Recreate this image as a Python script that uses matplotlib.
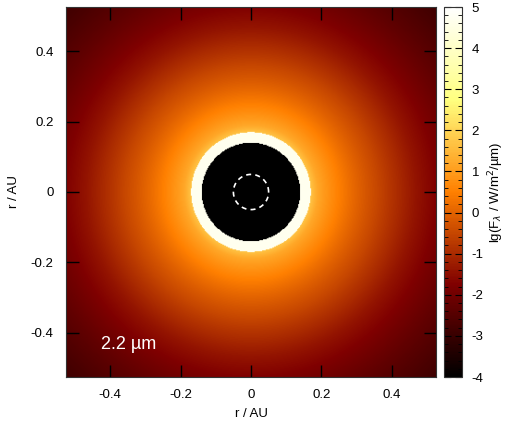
import matplotlib
matplotlib.use("Agg")
import matplotlib.pyplot as plt
import numpy as np
from matplotlib.ticker import MultipleLocator

plt.rcParams['font.family'] = ['Liberation Sans', 'DejaVu Sans']

# radial brightness profile (r in AU, lg F)
prof_r = [0.17, 0.19, 0.25, 0.30, 0.36, 0.42, 0.47, 0.52, 0.62, 0.75]
prof_lg = [1.7, 1.2, 0.5, 0.0, -0.5, -1.0, -1.4, -1.7, -2.3, -2.9]
r_hole = 0.14      # black disk (no emission)
r_ring = 0.17      # bright inner rim
ring_lg = 4.7
r_star = 0.05      # dashed circle
half = 0.525
label = "2.2 µm"

n = 400
xs = np.linspace(-half, half, n)
X, Y = np.meshgrid(xs, xs)
R = np.hypot(X, Y)
img = np.interp(np.log10(np.maximum(R, 1e-3)), np.log10(prof_r), prof_lg)
img[R < r_ring] = ring_lg
img[R < r_hole] = -5

fig = plt.figure(figsize=(5.12, 4.29), dpi=100)
ax = fig.add_axes([66/512, 1-377/429, 370/512, 370/429])
cax = fig.add_axes([444/512, 1-377/429, 18/512, 370/429])

im = ax.imshow(img, extent=[-half, half, -half, half], origin='lower',
               cmap='afmhot', vmin=-4, vmax=5, interpolation='bilinear',
               aspect='auto')
th = np.linspace(0, 2*np.pi, 200)
ax.plot(r_star*np.cos(th), r_star*np.sin(th), color='white', lw=1.2,
        ls=(0, (3, 2.5)))
ax.text(-0.425, -0.445, label, color='white', fontsize=13)

ax.set_xlim(-half, half)
ax.set_ylim(-half, half)
ax.set_xticks([-0.4, -0.2, 0, 0.2, 0.4])
ax.set_yticks([-0.4, -0.2, 0, 0.2, 0.4])
ax.set_xticklabels(['-0.4', '-0.2', '0', '0.2', '0.4'])
ax.set_yticklabels(['-0.4', '-0.2', '0', '0.2', '0.4'])
ax.tick_params(direction='in', length=9, width=1, top=True, right=True,
               labelsize=9.5, pad=9)
ax.set_xlabel('r / AU', fontsize=9.5, labelpad=5)
ax.set_ylabel('r / AU', fontsize=9.5, labelpad=8)
for s in ax.spines.values():
    s.set_color('#333333')

cb = fig.colorbar(im, cax=cax)
cb.set_ticks(range(-4, 6))
cb.set_ticklabels([str(v) for v in range(-4, 6)])
cb.ax.yaxis.set_minor_locator(MultipleLocator(0.2))
cb.ax.tick_params(which='both', direction='in', left=True, right=True,
                  labelsize=9.5, pad=7)
cb.ax.tick_params(which='major', length=5)
cb.ax.tick_params(which='minor', length=3)
cb.outline.set_color('#333333')
cb.set_label(r'lg(F$_\lambda$ / W/m$^2$/µm)', fontsize=9.5, labelpad=2)

fig.savefig('out.png', dpi=100)
